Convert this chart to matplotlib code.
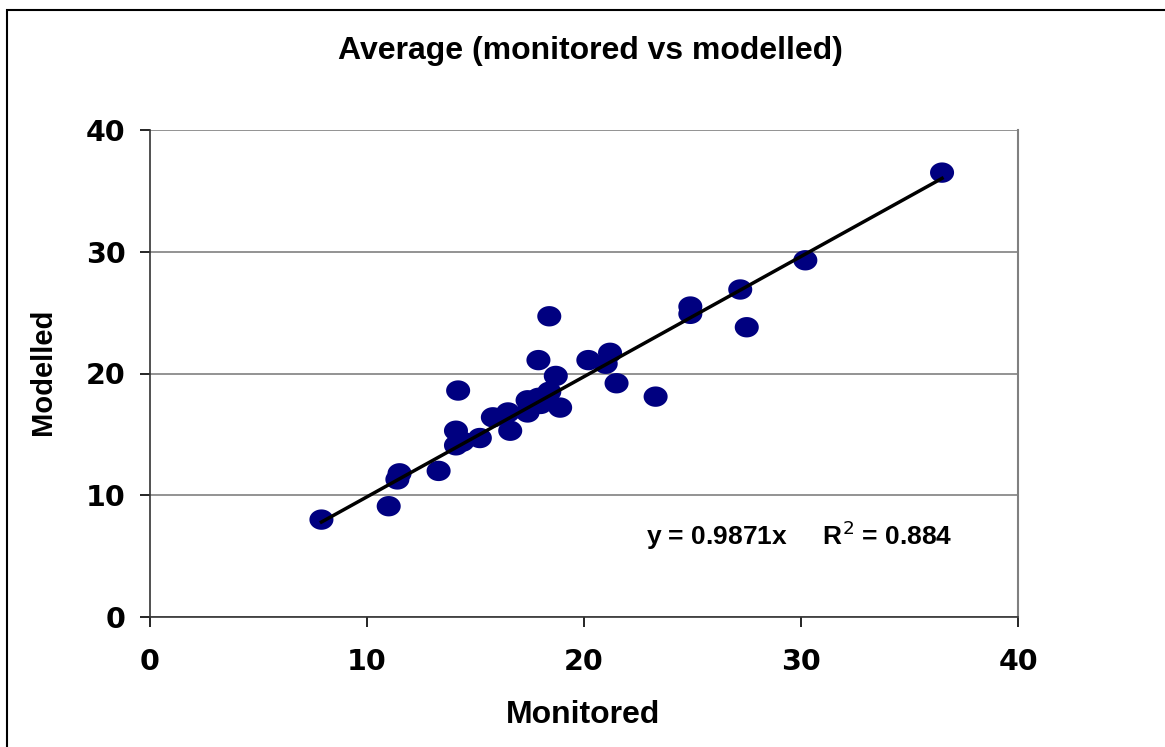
import matplotlib
matplotlib.use("Agg")
import matplotlib.pyplot as plt
import numpy as np
from matplotlib.path import Path
from matplotlib.patches import Rectangle

# valores (monitored vs modelled)
monitored = [7.9, 11.0, 11.5, 11.4, 13.3, 14.2, 14.1, 14.1, 14.4, 15.2, 15.8, 16.5,
             16.6, 17.4, 17.4, 17.9, 18.0, 18.4, 17.9, 18.4, 18.7, 18.9, 20.2, 21.0,
             21.2, 21.5, 23.3, 36.5, 30.2, 27.2, 27.5, 24.9, 24.9]
modelled = [8.0, 9.1, 11.8, 11.3, 12.0, 18.6, 15.3, 14.1, 14.4, 14.7, 16.4, 16.8,
            15.3, 17.8, 16.8, 18.0, 17.5, 18.5, 21.1, 24.7, 19.8, 17.2, 21.1, 20.8,
            21.7, 19.2, 18.1, 36.5, 29.3, 26.9, 23.8, 25.5, 24.9]

slope = 0.9871
r2 = 0.884
ticks = [0, 10, 20, 30, 40]

# marcador eliptico (un poco mas ancho que alto)
t = np.linspace(0, 2 * np.pi, 60)
ellipse = Path(np.column_stack([1.18 * np.cos(t), np.sin(t)]))

fig = plt.figure(figsize=(11.65, 7.47), dpi=100)
ax = fig.add_axes([150 / 1165, 1 - 617 / 747, 868 / 1165, 487 / 747])

ax.scatter(monitored, modelled, marker=ellipse, s=300, color="#000080",
           edgecolors="none", zorder=3)

xl = np.array([min(monitored), max(monitored)])
ax.plot(xl, slope * xl, color="black", lw=2.5, zorder=4)

ax.set_xlim(0, 40)
ax.set_ylim(0, 40)
ax.set_xticks(ticks)
ax.set_yticks(ticks)
ax.yaxis.grid(True, color="#808080", lw=1.2)
ax.set_axisbelow(True)
ax.tick_params(direction="out", length=7.5, width=1.2)
ax.tick_params(axis="x", pad=15)
ax.tick_params(axis="y", pad=10)
for lab in ax.get_xticklabels() + ax.get_yticklabels():
    lab.set_fontfamily("DejaVu Sans")
    lab.set_fontweight("bold")
    lab.set_fontsize(20.5)

ax.spines["top"].set_visible(False)
ax.spines["right"].set_color("#808080")
ax.spines["right"].set_linewidth(1.5)
ax.spines["left"].set_color("#333333")
ax.spines["bottom"].set_color("#333333")
ax.spines["left"].set_linewidth(1.2)
ax.spines["bottom"].set_linewidth(1.2)

fig.text(590 / 1165, 1 - 51 / 747, "Average (monitored vs modelled)", ha="center",
         va="center", family="Liberation Sans", weight="bold", fontsize=23)
fig.text(583 / 1165, 1 - 715 / 747, "Monitored", ha="center", va="center",
         family="Liberation Sans", weight="bold", fontsize=23)
fig.text(43 / 1165, 1 - 372 / 747, "Modelled", ha="center", va="center",
         rotation=90, family="Liberation Sans", weight="bold", fontsize=21)
ax.text(0.572, 0.167, "y = %.4fx     R$^{2}$ = %.3f" % (slope, r2), transform=ax.transAxes,
        ha="left", va="center", family="Liberation Sans", weight="bold", fontsize=19)

# borde exterior del grafico
fig.add_artist(Rectangle((7 / 1165, -0.1), 1.2, 1.1 - 10 / 747, transform=fig.transFigure,
                         fill=False, edgecolor="black", lw=1.5))

fig.savefig("out.png", dpi=100)
